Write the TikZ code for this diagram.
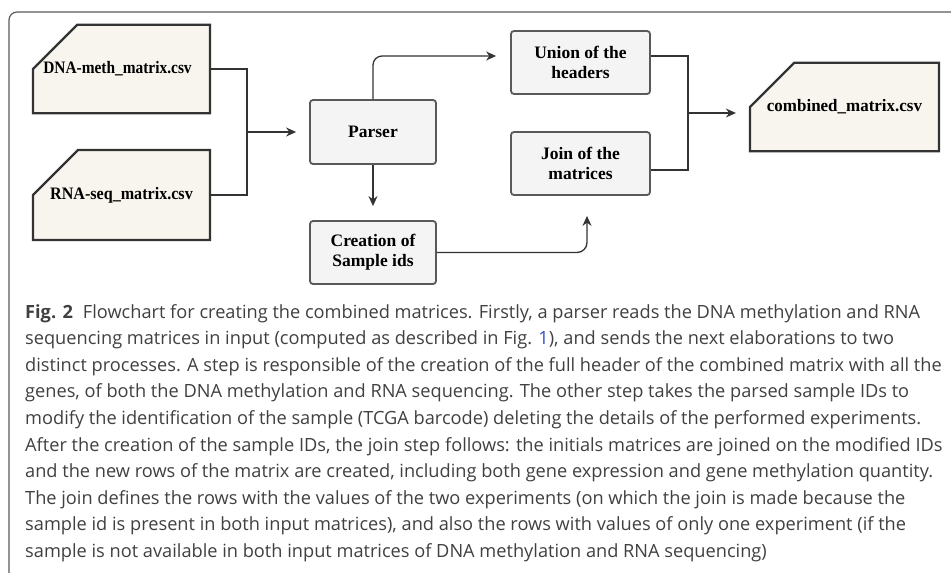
\documentclass[tikz,border=0pt]{standalone}
\usepackage{fontspec}
\setmainfont{Liberation Serif}
\newfontfamily\capfont{Open Sans}
\usetikzlibrary{shapes.misc,arrows.meta}
\definecolor{filefill}{HTML}{F8F5EE}
\definecolor{procfill}{HTML}{F4F4F4}
\definecolor{dark}{HTML}{333333}
\definecolor{procline}{HTML}{595959}
\definecolor{captxt}{HTML}{404040}
\definecolor{linkblue}{HTML}{3050C0}
\tikzset{
  filebox/.style={chamfered rectangle, chamfered rectangle corners=north west,
    chamfered rectangle xsep=38pt, chamfered rectangle ysep=37pt,
    draw=dark, line width=2.2pt, fill=filefill, inner sep=0pt,
    font=\fontsize{17.5}{19}\selectfont\bfseries, text=black},
  procbox/.style={rectangle, rounded corners=3pt, draw=procline, line width=1.8pt,
    fill=procfill, inner sep=0pt, align=center,
    font=\fontsize{17.5}{20}\selectfont\bfseries, text=black},
  conn/.style={draw=dark, line width=1.3pt},
  arr/.style={conn, -{Stealth[length=10pt,width=9pt]}},
  capline/.style={anchor=base west, inner sep=0pt, text=captxt,
    font=\capfont\fontsize{18.2}{20}\selectfont},
}
\begin{document}
\begin{tikzpicture}[x=1pt,y=-1pt]
\useasboundingbox (0,0) rectangle (951,573);
% frame
\draw[draw=procline, line width=1.2pt, rounded corners=8pt] (9,580) -- (9,12) -- (960,12);
% nodes
\node[filebox, minimum width=177pt, minimum height=76pt] (dna) at (121.5,69) {\hspace{-8pt}\scalebox{0.88}[1]{DNA-meth\_matrix.csv}};
\node[filebox, minimum width=177pt, minimum height=76pt] (rna) at (121.5,195) {\scalebox{0.92}[1]{RNA-seq\_matrix.csv}};
\node[procbox, minimum width=126pt, minimum height=64pt] (parser) at (373,132) {Parser};
\node[procbox, minimum width=139pt, minimum height=63pt] (union) at (580.5,62.5) {Union of the\\headers};
\node[procbox, minimum width=139pt, minimum height=63pt] (join) at (580.5,163.5) {Join of the\\matrices};
\node[procbox, minimum width=126pt, minimum height=63pt] (creation) at (373,252.5) {Creation of\\Sample ids};
\node[filebox, minimum width=189pt, minimum height=76pt] (comb) at (844.5,107) {\scalebox{0.97}[1]{combined\_matrix.csv}};
\coordinate (m1) at (247,132);
\coordinate (m2) at (688,113);
% connectors
\draw[conn] (dna.east) -| (m1) |- (rna.east);
\draw[arr, shorten >=13pt] (m1) -- (parser.west);
\draw[arr, rounded corners=9pt, shorten >=14pt] (parser.north) |- ([yshift=6.5pt]union.west);
\draw[arr, shorten >=14pt] (parser.south) -- (creation.north);
\draw[arr, rounded corners=10pt, shorten >=20pt] (creation.east) -| ([xshift=6.5pt]join.south);
\draw[conn] ([yshift=6.5pt]union.east) -| (m2) |- ([yshift=-6.5pt]join.east);
\draw[arr, shorten >=13pt] (m2) -- (m2 -| comb.west);
% caption
\node[capline] (c1) at (25,318) {\textbf{Fig. 2}\hspace{0.55em}Flowchart for creating the combined matrices. Firstly, a parser reads the DNA methylation and RNA};
\node[capline] (c2) at (25,344.6) {sequencing matrices in input (computed as described in Fig. \textcolor{linkblue}{1}), and sends the next elaborations to two};
\node[capline] (c3) at (25,371.2) {distinct processes. A step is responsible of the creation of the full header of the combined matrix with all the};
\node[capline] (c4) at (25,397.8) {genes, of both the DNA methylation and RNA sequencing. The other step takes the parsed sample IDs to};
\node[capline] (c5) at (25,424.4) {modify the identification of the sample (TCGA barcode) deleting the details of the performed experiments.};
\node[capline] (c6) at (25,451) {After the creation of the sample IDs, the join step follows: the initials matrices are joined on the modified IDs};
\node[capline] (c7) at (25,477.6) {and the new rows of the matrix are created, including both gene expression and gene methylation quantity.};
\node[capline] (c8) at (25,504.2) {The join defines the rows with the values of the two experiments (on which the join is made because the};
\node[capline] (c9) at (25,530.8) {sample id is present in both input matrices), and also the rows with values of only one experiment (if the};
\node[capline] (c10) at (25,557.4) {sample is not available in both input matrices of DNA methylation and RNA sequencing)};
\end{tikzpicture}
\end{document}
